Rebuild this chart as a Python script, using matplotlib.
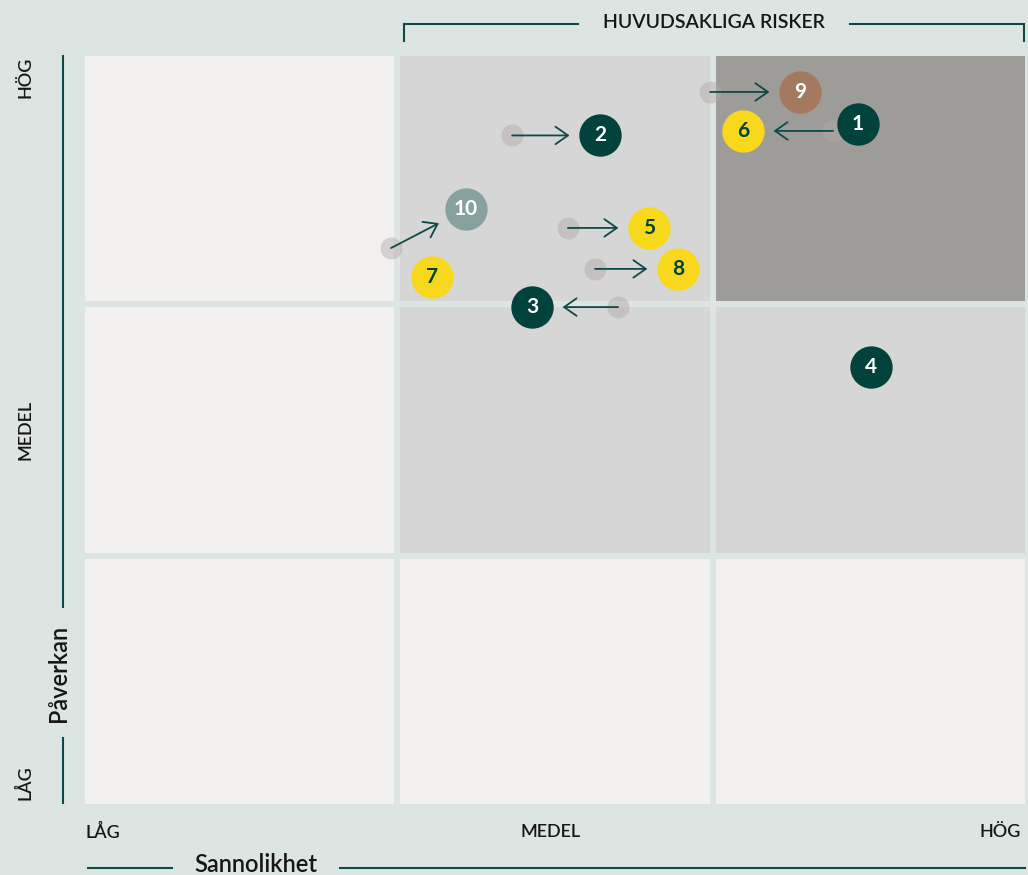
import matplotlib
matplotlib.use("Agg")
import matplotlib.pyplot as plt
from matplotlib.patches import Rectangle
from matplotlib.lines import Line2D

# risk matrix data (x = sannolikhet, y = påverkan, 0..3 scale)
risk_ids = ["1", "2", "3", "4", "5", "6", "7", "8", "9", "10"]
risk_x = [2.461, 1.643, 1.427, 2.502, 1.798, 2.096, 1.110, 1.890, 2.277, 1.218]
risk_y = [2.718, 2.672, 1.989, 1.751, 2.304, 2.690, 2.109, 2.141, 2.845, 2.379]
# previous positions (None = no movement)
prev_x = [None, 1.364, 1.700, None, 1.541, 2.382, None, 1.627, 1.992, 0.980]
prev_y = [None, 2.672, 1.989, None, 2.304, 2.690, None, 2.141, 2.845, 2.224]
risk_group = ["dark", "dark", "dark", "dark", "yellow", "yellow", "yellow", "yellow", "brown", "grey"]

levels = ["LÅG", "MEDEL", "HÖG"]
# cell shading by (column, row)
cell_shade = {(0, 0): "light", (1, 0): "light", (2, 0): "light",
              (0, 1): "light", (1, 1): "mid", (2, 1): "mid",
              (0, 2): "light", (1, 2): "mid", (2, 2): "dark"}

bg = "#dde5e3"
teal = "#0d4a47"
ink = "#161616"
shade_col = {"light": "#f2f1ef", "mid": "#d6d6d6", "dark": "#9e9c99"}
fill_col = {"dark": "#01423d", "yellow": "#f8d81c", "brown": "#a5795f", "grey": "#87a29e"}
text_col = {"dark": "white", "yellow": "#01423d", "brown": "white", "grey": "white"}

plt.rcParams["font.family"] = ["Lato", "DejaVu Sans"]

fig = plt.figure(figsize=(10.28, 8.75), dpi=100, facecolor=bg)
W, H = 1028, 875
ax = fig.add_axes([82 / W, (875 - 807) / H, 946 / W, 754 / H])
ax.set_xlim(0, 3)
ax.set_ylim(0, 3)
ax.axis("off")

# cells with a small gap
gx = 3 / 315.33
gy = 3 / 251.33
for (c, r), s in cell_shade.items():
    ax.add_patch(Rectangle((c + gx, r + gy), 1 - 2 * gx, 1 - 2 * gy,
                           facecolor=shade_col[s], edgecolor="none", zorder=0))

# ghosts and arrows
for i in range(len(risk_ids)):
    if prev_x[i] is None:
        continue
    ax.scatter(prev_x[i], prev_y[i], s=250, color="#b3a9a9", alpha=0.45,
               linewidths=0, zorder=2)
    ax.annotate("", xy=(risk_x[i], risk_y[i]), xytext=(prev_x[i], prev_y[i]),
                arrowprops=dict(arrowstyle="->,head_length=0.5,head_width=0.35",
                                color=teal, lw=1.3, mutation_scale=18,
                                shrinkA=0, shrinkB=22),
                zorder=3)

# risk markers
for i, rid in enumerate(risk_ids):
    g = risk_group[i]
    ax.scatter(risk_x[i], risk_y[i], s=930, color=fill_col[g], linewidths=0, zorder=4)
    ax.text(risk_x[i], risk_y[i], rid, ha="center", va="center", fontsize=15,
            fontweight="bold", color=text_col[g], zorder=5)

# top bracket
fig.add_artist(Line2D([404 / W, 578 / W], [1 - 24 / H] * 2, color=teal, lw=1.5))
fig.add_artist(Line2D([850 / W, 1024 / W], [1 - 24 / H] * 2, color=teal, lw=1.5))
fig.add_artist(Line2D([404 / W] * 2, [1 - 24 / H, 1 - 41 / H], color=teal, lw=1.5))
fig.add_artist(Line2D([1024 / W] * 2, [1 - 24 / H, 1 - 41 / H], color=teal, lw=1.5))
fig.text(714 / W, 1 - 23 / H, "HUVUDSAKLIGA RISKER", ha="center", va="center",
         fontsize=14, fontweight="semibold", color=ink)

# y axis
fig.add_artist(Line2D([63 / W] * 2, [1 - 56 / H, 1 - 607 / H], color=teal, lw=1.5))
fig.add_artist(Line2D([63 / W] * 2, [1 - 738 / H, 1 - 803 / H], color=teal, lw=1.5))
fig.text(59 / W, 1 - 673 / H, "Påverkan", rotation=90, ha="center", va="center",
         fontsize=17, fontweight="semibold", color=ink)
for lab, py in zip(levels, [783, 430, 77]):
    fig.text(25 / W, 1 - py / H, lab, rotation=90, ha="center", va="center",
             fontsize=13, fontweight="semibold", color=ink)

# x axis
fig.add_artist(Line2D([88 / W, 172 / W], [1 - 868 / H] * 2, color=teal, lw=1.5))
fig.add_artist(Line2D([340 / W, 1025 / W], [1 - 868 / H] * 2, color=teal, lw=1.5))
fig.text(256 / W, 1 - 864 / H, "Sannolikhet", ha="center", va="center",
         fontsize=17, fontweight="semibold", color=ink)
for lab, px in zip(levels, [103, 551, 1000]):
    fig.text(px / W, 1 - 832 / H, lab, ha="center", va="center",
             fontsize=13, fontweight="semibold", color=ink)

fig.savefig("out.png", dpi=100, facecolor=bg)
